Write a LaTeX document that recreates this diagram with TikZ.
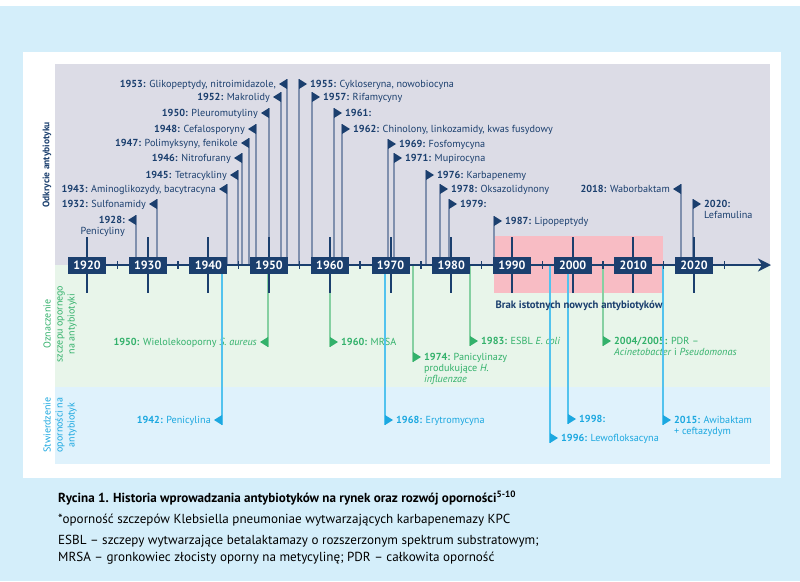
\documentclass[tikz,border=0pt]{standalone}
\usepackage{fontspec}
\setmainfont{PT Sans}
\usetikzlibrary{arrows.meta}
\definecolor{bgblue}{HTML}{D4EEFA}
\definecolor{bandgray}{HTML}{DCDCE6}
\definecolor{bandgreen}{HTML}{E8F5EA}
\definecolor{bandblue}{HTML}{DFF2FC}
\definecolor{navy}{HTML}{1B3F6E}
\definecolor{gline}{HTML}{8090AE}
\definecolor{grn}{HTML}{33B16B}
\definecolor{grnline}{HTML}{86D0A2}
\definecolor{cyn}{HTML}{1CA8E0}
\definecolor{cynline}{HTML}{52C3EE}
\definecolor{pinkbox}{HTML}{F8BCC4}
\tikzset{
  evtext/.style={inner sep=0pt, font=\fontsize{10.2}{11}\selectfont},
  yearbox/.style={fill=navy, text=white, inner sep=0pt, minimum width=38pt, minimum height=17pt, font=\bfseries\fontsize{12}{12}\selectfont},
  decline/.style={navy, line width=2pt},
  tickline/.style={navy, line width=1.4pt},
  axisline/.style={navy, line width=2pt},
  sidelabel/.style={rotate=90, align=center, inner sep=0pt, font=\fontsize{10}{12}\selectfont},
  captext/.style={anchor=base west, inner sep=0pt, font=\fontsize{13.1}{15}\selectfont}
}
% #1 name, #2 x, #3 y, #4 colour, #5 line colour, #6 extra lines, #7 text
\newcommand\flagleft[7]{%
  \coordinate (#1-a) at (#2,265);
  \coordinate (#1-t) at (#2,#3-5);
  \coordinate (#1-b) at (#2,#3+5);
  \draw[#5, line width=1.1pt] (#1-a) -- (#1-t) -- (#1-b);
  \fill[#4] (#1-t) -- (#1-b) -- (#2-8,#3) -- cycle;
  \node[evtext, text=#4, align=right, anchor=base east] (#1) at (#2-11,#3+3.6+#6*11) {#7};
}
\newcommand\flagright[7]{%
  \coordinate (#1-a) at (#2,265);
  \coordinate (#1-t) at (#2,#3-5);
  \coordinate (#1-b) at (#2,#3+5);
  \draw[#5, line width=1.1pt] (#1-a) -- (#1-t) -- (#1-b);
  \fill[#4] (#1-t) -- (#1-b) -- (#2+8,#3) -- cycle;
  \node[evtext, text=#4, align=left, anchor=base west] (#1) at (#2+11,#3+3.6+#6*11) {#7};
}
\begin{document}
\begin{tikzpicture}[x=1pt,y=-1pt]
\useasboundingbox (0,0) rectangle (800,581);
% backgrounds
\fill[white] (0,0) rectangle (800,6);
\fill[bgblue] (0,6) rectangle (800,581);
\fill[white] (23,52) rectangle (781,478);
\fill[bandgray] (55,64) rectangle (770,265);
\fill[bandgreen] (55,265) rectangle (770,387);
\fill[bandblue] (55,387) rectangle (770,464);
\fill[pinkbox] (494,236) rectangle (663,293);

% side labels
\node[sidelabel, text=navy, font=\bfseries\fontsize{9.5}{12}\selectfont] (lab1) at (47,165) {Odkrycie antybiotyku};
\node[sidelabel, text=grn] (lab2) at (60,324) {Oznaczenie\\szczepu opornego\\na antybiotyki};
\node[sidelabel, text=cyn] (lab3) at (60,425) {Stwierdzenie\\oporności na\\antybiotyk};

% discovery events
\flagleft{d1928}{136}{220}{navy}{gline}{1}{\textbf{1928:}\\Penicyliny}
\flagleft{d1932}{157}{204}{navy}{gline}{0}{\textbf{1932:} Sulfonamidy}
\flagleft{d1943}{227}{189}{navy}{gline}{0}{\textbf{1943:} Aminoglikozydy, bacytracyna}
\flagleft{d1945}{238}{175}{navy}{gline}{0}{\textbf{1945:} Tetracykliny}
\flagleft{d1946}{242}{158}{navy}{gline}{0}{\textbf{1946:} Nitrofurany}
\flagleft{d1947}{249}{143}{navy}{gline}{0}{\textbf{1947:} Polimyksyny, fenikole}
\flagleft{d1948}{256}{129}{navy}{gline}{0}{\textbf{1948:} Cefalosporyny}
\flagleft{d1950}{269}{113}{navy}{gline}{0}{\textbf{1950:} Pleuromutyliny}
\flagleft{d1952}{281}{97}{navy}{gline}{0}{\textbf{1952:} Makrolidy}
\flagleft{d1953}{287}{84}{navy}{gline}{0}{\textbf{1953:} Glikopeptydy, nitroimidazole,}
\flagright{d1955}{299}{84}{navy}{gline}{0}{\textbf{1955:} Cykloseryna, nowobiocyna}
\flagright{d1957}{312}{97}{navy}{gline}{0}{\textbf{1957:} Rifamycyny}
\flagright{d1961}{334}{113}{navy}{gline}{0}{\textbf{1961:}}
\flagright{d1962}{342}{129}{navy}{gline}{0}{\textbf{1962:} Chinolony, linkozamidy, kwas fusydowy}
\flagright{d1969}{388}{144}{navy}{gline}{0}{\textbf{1969:} Fosfomycyna}
\flagright{d1971}{394}{158}{navy}{gline}{0}{\textbf{1971:} Mupirocyna}
\flagright{d1976}{426}{175}{navy}{gline}{0}{\textbf{1976:} Karbapenemy}
\flagright{d1978}{440}{189}{navy}{gline}{0}{\textbf{1978:} Oksazolidynony}
\flagright{d1979}{449}{204}{navy}{gline}{0}{\textbf{1979:}}
\flagright{d1987}{494}{221}{navy}{gline}{0}{\textbf{1987:} Lipopeptydy}
\flagleft{d2018}{681}{189}{navy}{gline}{0}{\textbf{2018:} Waborbaktam}
\flagright{d2020}{693}{204}{navy}{gline}{1}{\textbf{2020:}\\Lefamulina}

% resistant strain identification
\flagleft{g1950}{268}{342}{grn}{grnline}{0}{\textbf{1950:} Wielolekooporny \textit{S. aureus}}
\flagright{g1960}{330}{342}{grn}{grnline}{0}{\textbf{1960:} MRSA}
\flagright{g1974}{413}{357}{grn}{grnline}{2}{\textbf{1974:} Panicylinazy\\produkujące \textit{H.}\\\textit{influenzae}}
\flagright{g1983}{470}{341}{grn}{grnline}{0}{\textbf{1983:} ESBL \textit{E. coli}}
\flagright{g2004}{603}{341}{grn}{grnline}{1}{\textbf{2004/2005:} PDR –\\\textit{Acinetobacter} i \textit{Pseudomonas}}

% resistance confirmation
\flagleft{c1942}{222}{420}{cyn}{cynline}{0}{\textbf{1942:} Penicylina}
\flagright{c1968}{385}{420}{cyn}{cynline}{0}{\textbf{1968:} Erytromycyna}
\flagright{c1996}{550}{438}{cyn}{cynline}{0}{\textbf{1996:} Lewofloksacyna}
\flagright{c1998}{568}{419}{cyn}{cynline}{0}{\textbf{1998:}}
\flagright{c2015}{663}{420}{cyn}{cynline}{1}{\textbf{2015:} Awibaktam\\+ ceftazydym}

% axis
\coordinate (axstart) at (87,265);
\coordinate (axend) at (771,265);
\draw[axisline, -{Stealth[length=13pt,width=13pt,inset=4pt]}] (axstart) -- (axend);
\foreach \i in {0,...,10}{
  \pgfmathsetmacro\xx{87+\i*60.7}
  \coordinate (dtop\i) at (\xx,237);
  \coordinate (dbot\i) at (\xx,293);
  \draw[decline] (dtop\i) -- (dbot\i);
  \pgfmathsetmacro\tx{117.35+\i*60.7}
  \coordinate (ttop\i) at (\tx,261);
  \coordinate (tbot\i) at (\tx,269);
  \draw[tickline] (ttop\i) -- (tbot\i);
}
\foreach \yr [count=\i from 0] in {1920,1930,1940,1950,1960,1970,1980,1990,2000,2010,2020}{
  \node[yearbox] (y\yr) at (87+\i*60.7,265) {\yr};
}
\node[font=\bfseries\fontsize{10.7}{12}\selectfont, text=navy, inner sep=0pt] (brak) at (579,306) {Brak istotnych nowych antybiotyków};

% caption
\node[captext, font=\bfseries\fontsize{13.1}{15}\selectfont] (cap1) at (58,502) {Rycina 1. Historia wprowadzania antybiotyków na rynek oraz rozwój oporności\textsuperscript{5-10}};
\node[captext] (cap2) at (58,523) {*oporność szczepów Klebsiella pneumoniae wytwarzających karbapenemazy KPC};
\node[captext] (cap3) at (58,544) {ESBL – szczepy wytwarzające betalaktamazy o rozszerzonym spektrum substratowym;};
\node[captext] (cap4) at (58,561) {MRSA – gronkowiec złocisty oporny na metycylinę; PDR – całkowita oporność};
\end{tikzpicture}
\end{document}
